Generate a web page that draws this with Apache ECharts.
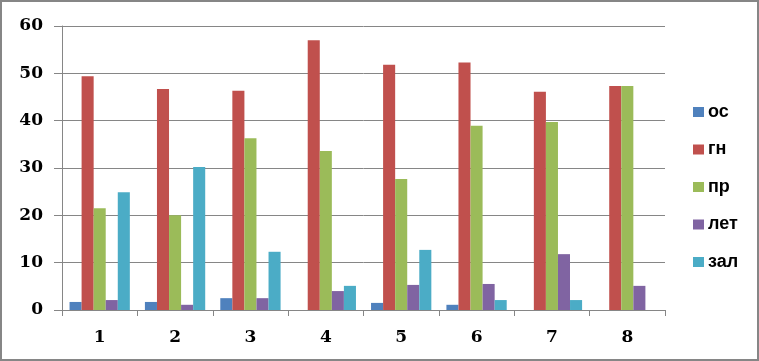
<!DOCTYPE html>
<html><head><meta charset="utf-8">
<script src="https://cdn.jsdelivr.net/npm/echarts@6/dist/echarts.min.js"></script>
<style>html,body{margin:0;padding:0;background:#fff}#c{width:759px;height:361px;box-sizing:border-box;border:2px solid #868686}</style>
</head><body><div id="c"></div>
<script>
const categories = ['1','2','3','4','5','6','7','8'];
const seriesNames = ['ос','гн','пр','лет','зал'];
const osValues  = [1.7, 1.7, 2.5, 0, 1.5, 1.1, 0, 0];
const gnValues  = [49.4, 46.7, 46.3, 57.0, 51.8, 52.3, 46.1, 47.3];
const prValues  = [21.5, 20.0, 36.3, 33.6, 27.7, 38.9, 39.7, 47.3];
const letValues = [2.1, 1.1, 2.5, 4.0, 5.3, 5.5, 11.8, 5.1];
const zalValues = [24.9, 30.2, 12.3, 5.1, 12.7, 2.1, 2.1, 0];
const colors = ['#4F81BD','#C0504D','#9BBB59','#8064A2','#4BACC6'];
const allValues = [osValues, gnValues, prValues, letValues, zalValues];

const chart = echarts.init(document.getElementById('c'), null, {renderer:'canvas'});
const axisFont = 'DejaVu Serif';
const legendFont = 'Liberation Sans';
chart.setOption({
  animation:false,
  color: colors,
  grid:{left:60, right:92, top:24, bottom:49, containLabel:false},
  legend:{
    orient:'vertical', left:686, top:96, itemWidth:11, itemHeight:10, itemGap:19.5,
    icon:'rect',
    textStyle:{fontFamily:legendFont, fontWeight:'bold', fontSize:18, lineHeight:18, color:'#000', padding:[0,0,0,-1]},
    data: seriesNames
  },
  xAxis:{
    type:'category', data:categories,
    axisLine:{lineStyle:{color:'#868686'}},
    axisTick:{show:true, length:6, lineStyle:{color:'#868686'}},
    axisLabel:{fontFamily:axisFont, fontWeight:'bold', fontSize:17, color:'#000', margin:19}
  },
  yAxis:{
    type:'value', min:0, max:60, interval:10,
    axisLine:{show:true, lineStyle:{color:'#868686'}},
    axisTick:{show:true, length:8, lineStyle:{color:'#868686'}},
    splitLine:{lineStyle:{color:'#868686'}},
    axisLabel:{fontFamily:axisFont, fontWeight:'bold', fontSize:17, color:'#000', margin:19}
  },
  series: seriesNames.map((n,i)=>({
    name:n, type:'bar', data:allValues[i], barGap:'0%', barCategoryGap:'20%'
  }))
});
</script></body></html>
